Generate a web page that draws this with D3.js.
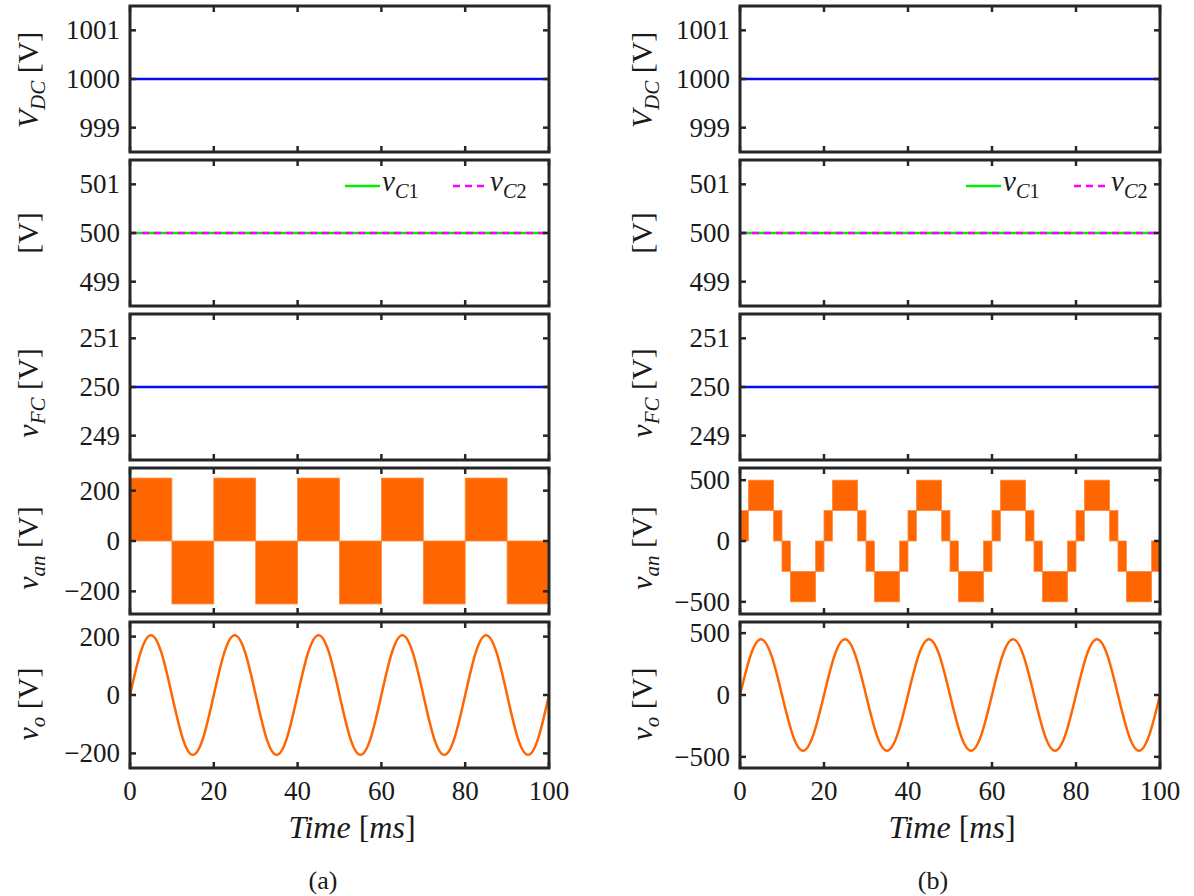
<!DOCTYPE html>
<html>
<head>
<meta charset="utf-8">
<script src="https://cdn.jsdelivr.net/npm/d3@7/dist/d3.min.js"></script>
<style>
  html, body { margin: 0; padding: 0; background: #fff; }
  svg text { fill: #1a1a1a; white-space: pre; }
</style>
</head>
<body>
<svg id="fig" width="1194" height="896" font-family="Liberation Serif"></svg>
<script>
// ---------------- data ----------------
const timeTicks = [0, 20, 40, 60, 80, 100];
const timeSpan = [0, 100];

// DC-link, capacitor and flying-capacitor voltages (constant)
const vDC = [1000, 1000];
const vC1 = [500, 500];
const vC2 = [500, 500];
const vFC = [250, 250];

const dcTicks = [999, 1000, 1001];
const capTicks = [499, 500, 501];
const fcTicks = [249, 250, 251];

// (a) pole voltage: PWM envelope bands per half cycle [ms, V]
const vanA_edges = [0, 10, 20, 30, 40, 50, 60, 70, 80, 90, 100];
const vanA_low  = [0, -250, 0, -250, 0, -250, 0, -250, 0, -250];
const vanA_high = [250, 0, 250, 0, 250, 0, 250, 0, 250, 0];

// (b) pole voltage: five-level PWM envelope bands [ms, V]
const vanB_edges = [0, 2, 8, 10, 12, 18, 20, 22, 28, 30, 32, 38, 40, 42, 48, 50, 52, 58, 60,
                    62, 68, 70, 72, 78, 80, 82, 88, 90, 92, 98, 100];
const vanB_low  = [0, 250, 0, -250, -500, -250, 0, 250, 0, -250, -500, -250, 0, 250, 0, -250, -500, -250,
                   0, 250, 0, -250, -500, -250, 0, 250, 0, -250, -500, -250];
const vanB_high = [250, 500, 250, 0, -250, 0, 250, 500, 250, 0, -250, 0, 250, 500, 250, 0, -250, 0,
                   250, 500, 250, 0, -250, 0, 250, 500, 250, 0, -250, 0];

const vanTicksA = [-200, 0, 200];
const vanTicksB = [-500, 0, 500];

// filtered output voltage, sampled every 2.5 ms
const voTime = [0, 2.5, 5, 7.5, 10, 12.5, 15, 17.5, 20, 22.5, 25, 27.5, 30, 32.5, 35, 37.5, 40,
                42.5, 45, 47.5, 50, 52.5, 55, 57.5, 60, 62.5, 65, 67.5, 70, 72.5, 75, 77.5, 80,
                82.5, 85, 87.5, 90, 92.5, 95, 97.5, 100];
const voA = [0, 145, 205, 145, 0, -145, -205, -145, 0, 145, 205, 145, 0, -145, -205, -145, 0,
             145, 205, 145, 0, -145, -205, -145, 0, 145, 205, 145, 0, -145, -205, -145, 0,
             145, 205, 145, 0, -145, -205, -145, 0];
const voB = [0, 318, 450, 318, 0, -318, -450, -318, 0, 318, 450, 318, 0, -318, -450, -318, 0,
             318, 450, 318, 0, -318, -450, -318, 0, 318, 450, 318, 0, -318, -450, -318, 0,
             318, 450, 318, 0, -318, -450, -318, 0];
const voTicksA = [-200, 0, 200];
const voTicksB = [-500, 0, 500];

// ---------------- layout ----------------
const svg = d3.select("#fig");
const FONT = "Liberation Serif";
const BLUE = "#0a0af0", GREEN = "#00ee00", MAGENTA = "#ff00ff", ORANGE = "#ff6600", AXIS = "#262626";
const TICK_FS = 27, LABEL_FS = 30;
const panelTop = i => 6 + i * 154;
const panelH = 146;

const columns = [
  { x0: 130, x1: 549, labelX: 38, caption: "(a)", capX: 323, timeX: 352,
    van: [vanA_edges, vanA_low, vanA_high], vanDom: [-290, 290], vanTicks: vanTicksA,
    vo: voA, voDom: [-250, 250], voTicks: voTicksA, legendX: 345 },
  { x0: 740, x1: 1160, labelX: 652, caption: "(b)", capX: 933, timeX: 952,
    van: [vanB_edges, vanB_low, vanB_high], vanDom: [-600, 600], vanTicks: vanTicksB,
    vo: voB, voDom: [-590, 590], voTicks: voTicksB, legendX: 966 }
];

// rich text helper: parts = [text, italic, subscript]
function rich(sel, parts, fs) {
  sel.attr("font-family", FONT);
  let shift = 0;
  parts.forEach(([s, it, sub]) => {
    const sp = sel.append("tspan").text(s).attr("font-style", it ? "italic" : "normal")
      .attr("font-family", FONT).attr("font-size", sub ? fs * 0.7 : fs);
    const target = sub ? fs * 0.24 : 0;
    if (target !== shift) { sp.attr("dy", target - shift); shift = target; }
  });
  return sel;
}

const fmt = v => (v < 0 ? "\u2212" + Math.abs(v) : String(v));

columns.forEach(col => {
  const x = d3.scaleLinear().domain(timeSpan).range([col.x0, col.x1]);

  const panels = [
    { dom: [998.5, 1001.5], ticks: dcTicks, label: [["V", true], ["DC", true, true], [" [V]", false]], shift: 1 },
    { dom: [498.5, 501.5], ticks: capTicks, label: [["[V]", false]], shift: 0 },
    { dom: [248.5, 251.5], ticks: fcTicks, label: [["v", true], ["FC", true, true], [" [V]", false]], shift: 6 },
    { dom: col.vanDom, ticks: col.vanTicks, label: [["v", true], ["an", true, true], [" [V]", false]], shift: 7 },
    { dom: col.voDom, ticks: col.voTicks, label: [["v", true], ["o", true, true], [" [V]", false]], shift: 9 }
  ];

  panels.forEach((p, i) => {
    const top = panelTop(i), bot = top + panelH;
    const y = d3.scaleLinear().domain(p.dom).range([bot, top]);
    const g = svg.append("g");
    const clipId = `clip-${col.caption.replace(/\W/g, "")}-${i}`;
    g.append("clipPath").attr("id", clipId).append("rect")
      .attr("x", col.x0).attr("y", top).attr("width", col.x1 - col.x0).attr("height", panelH);
    const plot = g.append("g").attr("clip-path", `url(#${clipId})`);

    const line = d3.line().x(d => x(d[0])).y(d => y(d[1]));

    if (i === 0) {
      plot.append("path").datum(timeSpan.map((t, k) => [t, vDC[k]]))
        .attr("d", line).attr("fill", "none").attr("stroke", BLUE).attr("stroke-width", 2.5);
    } else if (i === 1) {
      plot.append("path").datum(timeSpan.map((t, k) => [t, vC1[k]]))
        .attr("d", line).attr("fill", "none").attr("stroke", GREEN).attr("stroke-width", 2.5);
      plot.append("path").datum(timeSpan.map((t, k) => [t, vC2[k]]))
        .attr("d", line).attr("fill", "none").attr("stroke", MAGENTA).attr("stroke-width", 2.5)
        .attr("stroke-dasharray", "7,5");
      // legend
      const ly = top + 26, lx = col.legendX;
      g.append("line").attr("x1", lx).attr("x2", lx + 35).attr("y1", ly).attr("y2", ly)
        .attr("stroke", GREEN).attr("stroke-width", 2.5);
      rich(g.append("text").attr("x", lx + 37).attr("y", ly + 5), [["v", true], ["C", true, true], ["1", false, true]], 29);
      g.append("line").attr("x1", lx + 108).attr("x2", lx + 143).attr("y1", ly).attr("y2", ly)
        .attr("stroke", MAGENTA).attr("stroke-width", 2.5).attr("stroke-dasharray", "7,5");
      rich(g.append("text").attr("x", lx + 145).attr("y", ly + 5), [["v", true], ["C", true, true], ["2", false, true]], 29);
    } else if (i === 2) {
      plot.append("path").datum(timeSpan.map((t, k) => [t, vFC[k]]))
        .attr("d", line).attr("fill", "none").attr("stroke", BLUE).attr("stroke-width", 2.5);
    } else if (i === 3) {
      const [edges, lo, hi] = col.van;
      const bands = lo.map((l, k) => ({ t0: edges[k], t1: edges[k + 1], lo: l, hi: hi[k] }));
      plot.selectAll("rect.band").data(bands).join("rect").attr("class", "band")
        .attr("x", d => x(d.t0)).attr("width", d => x(d.t1) - x(d.t0))
        .attr("y", d => y(d.hi)).attr("height", d => y(d.lo) - y(d.hi))
        .attr("fill", ORANGE).attr("stroke", "#ff8a3d").attr("stroke-width", 0.8);
    } else {
      const curve = d3.line().x(d => x(d[0])).y(d => y(d[1])).curve(d3.curveNatural);
      plot.append("path").datum(voTime.map((t, k) => [t, col.vo[k]]))
        .attr("d", curve).attr("fill", "none").attr("stroke", ORANGE).attr("stroke-width", 2.5);
    }

    // frame
    g.append("rect").attr("x", col.x0).attr("y", top).attr("width", col.x1 - col.x0).attr("height", panelH)
      .attr("fill", "none").attr("stroke", AXIS).attr("stroke-width", 3);

    // inward ticks on all four sides
    const tl = 6;
    timeTicks.forEach(t => {
      g.append("line").attr("x1", x(t)).attr("x2", x(t)).attr("y1", bot).attr("y2", bot - tl)
        .attr("stroke", AXIS).attr("stroke-width", 2.5);
      g.append("line").attr("x1", x(t)).attr("x2", x(t)).attr("y1", top).attr("y2", top + tl)
        .attr("stroke", AXIS).attr("stroke-width", 2.5);
    });
    p.ticks.forEach(v => {
      g.append("line").attr("x1", col.x0).attr("x2", col.x0 + tl).attr("y1", y(v)).attr("y2", y(v))
        .attr("stroke", AXIS).attr("stroke-width", 2.5);
      g.append("line").attr("x1", col.x1).attr("x2", col.x1 - tl).attr("y1", y(v)).attr("y2", y(v))
        .attr("stroke", AXIS).attr("stroke-width", 2.5);
      g.append("text").attr("x", col.x0 - 10).attr("y", y(v)).attr("dy", "0.33em")
        .attr("font-family", FONT).attr("text-anchor", "end").attr("font-size", TICK_FS).text(fmt(v));
    });

    // y label
    const lab = g.append("text").attr("text-anchor", "middle")
      .attr("transform", `translate(${col.labelX},${(top + bot) / 2 + p.shift}) rotate(-90)`);
    rich(lab, p.label, LABEL_FS);

    // x tick labels on the bottom panel
    if (i === panels.length - 1) {
      timeTicks.forEach(t => {
        g.append("text").attr("x", x(t)).attr("y", bot + 32).attr("text-anchor", "middle")
          .attr("font-family", FONT).attr("font-size", TICK_FS).text(t);
      });
      const tl2 = g.append("text").attr("x", col.timeX).attr("y", bot + 70).attr("text-anchor", "middle");
      rich(tl2, [["Time", true], [" [", false], ["ms", true], ["]", false]], 32);
      g.append("text").attr("x", col.capX).attr("y", bot + 121).attr("text-anchor", "middle")
        .attr("font-family", FONT).attr("font-size", 26).text(col.caption);
    }
  });
});
</script>
</body>
</html>
